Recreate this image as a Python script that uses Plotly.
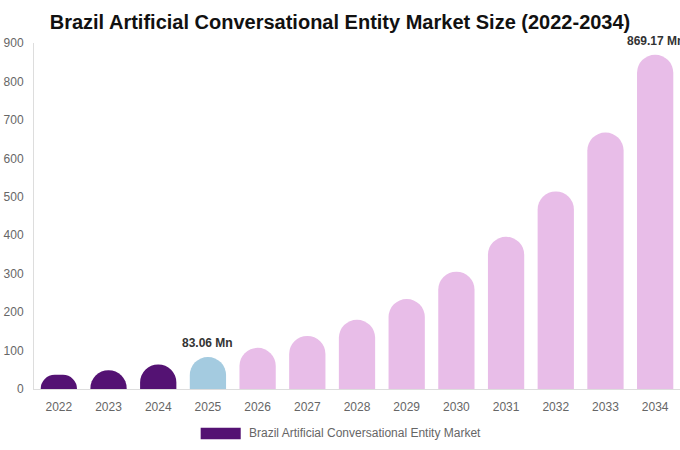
import plotly.graph_objects as go

years = [str(y) for y in range(2022, 2035)]
values = [37, 49, 64, 83.06, 107, 138, 180, 234, 305, 396, 514, 667, 869.17]
bar_colors = ['#541273', '#541273', '#541273', '#a4cbe0'] + ['#e8bde8'] * 9
labels = ['', '', '', '83.06 Mn', '', '', '', '', '', '', '', '', '869.17 Mn']
y_ticks = [0, 100, 200, 300, 400, 500, 600, 700, 800, 900]
series_name = 'Brazil Artificial Conversational Entity Market'

fig = go.Figure()
fig.add_trace(go.Bar(
    x=years,
    y=values,
    marker=dict(color=bar_colors, cornerradius=18, line=dict(width=0)),
    name=series_name,
    showlegend=False,
    hoverinfo='x+y',
))

# value labels above selected bars (category index as x position)
for i, (val, lab) in enumerate(zip(values, labels)):
    if lab:
        fig.add_annotation(x=i, y=val, text='<b>' + lab + '</b>',
                           showarrow=False, yanchor='bottom', yshift=5,
                           font=dict(size=12, color='#333333'))

fig.update_layout(
    width=680,
    height=450,
    margin=dict(l=34, r=0, t=43, b=61),
    plot_bgcolor='white',
    paper_bgcolor='white',
    bargap=0.27,
    font=dict(family='Liberation Sans', color='#666666', size=12),
    title=dict(
        text='<b>Brazil Artificial Conversational Entity Market Size (2022-2034)</b>',
        x=0.5, xanchor='center', y=0.951, yanchor='middle',
        font=dict(size=20, color='#111111'),
    ),
)

fig.update_xaxes(
    type='category', range=[-0.5, len(years) - 0.5],
    showgrid=False, showline=True, linecolor='#dddddd', linewidth=1,
    ticks='', ticklabelstandoff=7, automargin=False,
)
fig.update_yaxes(
    range=[0, 900], tickvals=y_ticks, showgrid=False, zeroline=False,
    showline=True, linecolor='#dddddd', linewidth=1,
    ticks='', ticklabelstandoff=7, automargin=False,
)

# legend drawn by hand to get the wide swatch
fig.add_shape(type='rect', xref='paper', yref='paper',
              x0=0.258, x1=0.320, y0=-0.112, y1=-0.145,
              fillcolor='#541273', line=dict(width=0))
fig.add_annotation(text=series_name, xref='paper', yref='paper',
                   x=0.330, y=-0.127, xanchor='left', yanchor='middle',
                   showarrow=False, font=dict(size=12, color='#666666'))

fig.write_html('out.html', config={'displayModeBar': False},
               post_script="document.body.style.margin='0';")
